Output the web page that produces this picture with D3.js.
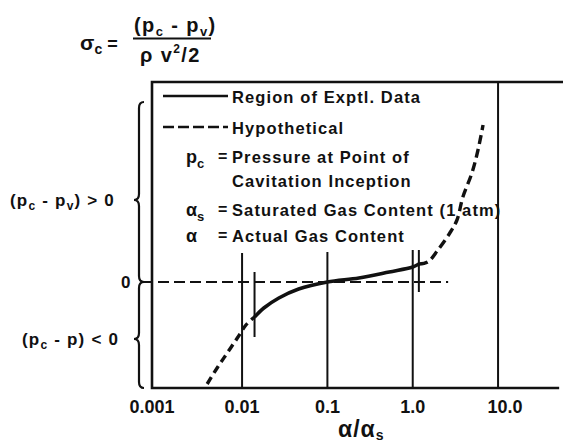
<!DOCTYPE html>
<html>
<head>
<meta charset="utf-8">
<script src="https://cdn.jsdelivr.net/npm/d3@7"></script>
<style>
body{margin:0;background:#fff;}
svg text{font-family:"Liberation Sans",Arial,sans-serif;font-weight:bold;fill:#111;}
</style>
</head>
<body>
<svg id="chart" width="563" height="444"></svg>
<script>
// x: a/as (log), y: sigma_c (arbitrary units, 0 = inception at vapour pressure)
var xTicks = [0.001, 0.01, 0.1, 1, 10];
var xTickLabels = ["0.001", "0.01", "0.1", "1.0", "10.0"];

// region of experimental data
var solidX = [0.014, 0.018, 0.027, 0.046, 0.1, 0.234, 0.53, 1.0, 1.18];
var solidY = [-0.35, -0.26, -0.16, -0.07, 0, 0.04, 0.10, 0.15, 0.18];

// hypothetical extensions
var lowX = [0.0039, 0.0051, 0.0067, 0.0088, 0.0111, 0.014];
var lowY = [-1.02, -0.86, -0.71, -0.56, -0.43, -0.35];
var highX = [1.18, 1.5, 1.97, 2.72, 3.3, 3.87, 4.94, 5.82, 6.67];
var highY = [0.18, 0.20, 0.32, 0.49, 0.62, 0.85, 1.09, 1.32, 1.57];

// ends of experimental region
var markX = [0.014, 1.18];

var svg = d3.select("#chart");

var xMin = 0.00088, xMax = 52;
var x = d3.scaleLog()
	.domain([xMin, xMax])
	.range([152, 152 + 85.33 * Math.log10(xMax / xMin)]);

var y = d3.scaleLinear()
	.domain([-1.06, 2.0])
	.range([388, 82]);

function zip(a, b){
	var r = [];
	for (var i=0; i<a.length; ++i){
		r.push([a[i], b[i]]);
	}
	return r;
}

var line = d3.line()
	.x(function(d){ return x(d[0]); })
	.y(function(d){ return y(d[1]); })
	.curve(d3.curveCatmullRom);

// frame: top, left, bottom
svg.append("path")
	.attr("d", "M563," + y(2.0) + "H" + x(xMin) + "V" + y(-1.06) + "H" + x(xMax))
	.attr("fill", "none")
	.attr("stroke", "#111")
	.attr("stroke-width", 2.6);

// gridlines
var gridTop = [null, 0.29, 0.30, 0.32, 2.0];
for (var i=1; i<xTicks.length; ++i){
	svg.append("line")
		.attr("x1", x(xTicks[i])).attr("x2", x(xTicks[i]))
		.attr("y1", y(gridTop[i])).attr("y2", y(-1.06))
		.attr("stroke", "#111")
		.attr("stroke-width", 2);
}

// short markers at ends of data
var markRange = [[0.10, -0.55], [0.32, -0.10]];
for (var i=0; i<markX.length; ++i){
	svg.append("line")
		.attr("x1", x(markX[i])).attr("x2", x(markX[i]))
		.attr("y1", y(markRange[i][0])).attr("y2", y(markRange[i][1]))
		.attr("stroke", "#111")
		.attr("stroke-width", 2);
}

// zero line
svg.append("line")
	.attr("x1", 142).attr("x2", x(2.6))
	.attr("y1", y(0)).attr("y2", y(0))
	.attr("stroke", "#111")
	.attr("stroke-width", 1.8)
	.attr("stroke-dasharray", "11,5");

// curves
svg.append("path")
	.attr("d", line(zip(lowX, lowY)))
	.attr("fill", "none").attr("stroke", "#111")
	.attr("stroke-width", 3.4).attr("stroke-dasharray", "8,5");
svg.append("path")
	.attr("d", line(zip(highX, highY)))
	.attr("fill", "none").attr("stroke", "#111")
	.attr("stroke-width", 3.4).attr("stroke-dasharray", "9,5");
svg.append("path")
	.attr("d", line(zip(solidX, solidY)))
	.attr("fill", "none").attr("stroke", "#111")
	.attr("stroke-width", 3.6);

// x tick labels (first one sits under the axis line)
svg.selectAll(".xt")
	.data(xTicks)
	.enter()
	.append("text")
		.attr("class", "xt")
		.attr("x", function(d, i){ return i == 0 ? x(xMin) : x(d) + (d == 10 ? 7 : 0); })
		.attr("y", 413)
		.attr("text-anchor", "middle")
		.attr("font-size", "18px")
		.text(function(d, i){ return xTickLabels[i]; });

// x axis title
var xt = svg.append("text").attr("x", 338).attr("y", 437).attr("font-size", "23px").attr("letter-spacing", "1px");
xt.append("tspan").text("α/α");
xt.append("tspan").attr("dy", 3).attr("font-size", "14px").text("s");

// braces
function brace(bx, y0, ym, y1){
	return "M" + (bx+5) + "," + y0 + "Q" + bx + "," + y0 + " " + bx + "," + (y0+6) +
		"L" + bx + "," + (ym-6) + "Q" + bx + "," + ym + " " + (bx-5) + "," + ym +
		"Q" + bx + "," + ym + " " + bx + "," + (ym+6) +
		"L" + bx + "," + (y1-6) + "Q" + bx + "," + y1 + " " + (bx+5) + "," + y1;
}
svg.append("path")
	.attr("d", brace(139, y(1.80), y(0.82), y(0)))
	.attr("fill", "none").attr("stroke", "#111").attr("stroke-width", 2.2);
svg.append("path")
	.attr("d", brace(139, y(0), y(-0.57), y(-1.06)))
	.attr("fill", "none").attr("stroke", "#111").attr("stroke-width", 2.2);

// y labels
var yl1 = svg.append("text").attr("x", 10).attr("y", 206).attr("font-size", "17px").attr("letter-spacing", "1.2px");
yl1.append("tspan").text("(p");
yl1.append("tspan").attr("dy", 4).attr("font-size", "12px").text("c");
yl1.append("tspan").attr("dy", -4).text(" - p");
yl1.append("tspan").attr("dy", 4).attr("font-size", "12px").text("v");
yl1.append("tspan").attr("dy", -4).text(") > 0");

svg.append("text").attr("x", 121).attr("y", y(0) + 6).attr("font-size", "17px").text("0");

var yl2 = svg.append("text").attr("x", 22).attr("y", 345).attr("font-size", "17px").attr("letter-spacing", "1.2px");
yl2.append("tspan").text("(p");
yl2.append("tspan").attr("dy", 4).attr("font-size", "12px").text("c");
yl2.append("tspan").attr("dy", -4).text(" - p) < 0");

// formula
var f1 = svg.append("text").attr("x", 80).attr("y", 50).attr("font-size", "21px");
f1.append("tspan").text("σ");
f1.append("tspan").attr("dy", 4).attr("font-size", "14px").text("c");
f1.append("tspan").attr("dy", -4).attr("font-size", "18px").text(" =");
var f2 = svg.append("text").attr("x", 134).attr("y", 32).attr("font-size", "20px").attr("letter-spacing", "1.4px");
f2.append("tspan").text("(p");
f2.append("tspan").attr("dy", 4).attr("font-size", "13px").text("c");
f2.append("tspan").attr("dy", -4).text(" - p");
f2.append("tspan").attr("dy", 4).attr("font-size", "13px").text("v");
f2.append("tspan").attr("dy", -4).text(")");
svg.append("line").attr("x1", 133).attr("x2", 211).attr("y1", 38.5).attr("y2", 38.5)
	.attr("stroke", "#111").attr("stroke-width", 2);
var f3 = svg.append("text").attr("x", 140).attr("y", 62).attr("font-size", "20px").attr("letter-spacing", "1.4px");
f3.append("tspan").text("ρ v");
f3.append("tspan").attr("dy", -9).attr("font-size", "12px").text("2");
f3.append("tspan").attr("dy", 9).text("/2");

// legend
svg.append("line").attr("x1", 163).attr("x2", 228).attr("y1", 96).attr("y2", 96)
	.attr("stroke", "#111").attr("stroke-width", 2.4);
svg.append("line").attr("x1", 163).attr("x2", 228).attr("y1", 127).attr("y2", 127)
	.attr("stroke", "#111").attr("stroke-width", 2.4).attr("stroke-dasharray", "11,4");

var legendRows = [
	{key: null, text: "Region of Exptl. Data", y: 103},
	{key: null, text: "Hypothetical", y: 134},
	{key: "p", sub: "c", text: "Pressure at Point of", y: 163},
	{key: null, text: "Cavitation Inception", y: 187},
	{key: "α", sub: "s", text: "Saturated Gas Content (1 atm)", y: 216},
	{key: "α", sub: null, text: "Actual Gas Content", y: 242}
];
legendRows.forEach(function(r){
	svg.append("text").attr("x", 232).attr("y", r.y).attr("font-size", "16.5px")
		.attr("letter-spacing", "1.1px").text(r.text);
	if (r.key){
		var k = svg.append("text").attr("x", 186).attr("y", r.y).attr("font-size", "18px");
		k.append("tspan").text(r.key);
		if (r.sub){
			k.append("tspan").attr("dy", 5).attr("font-size", "13px").text(r.sub);
		}
		svg.append("text").attr("x", 218).attr("y", r.y - 1).attr("font-size", "16px").text("=");
	}
});
</script>
</body>
</html>
